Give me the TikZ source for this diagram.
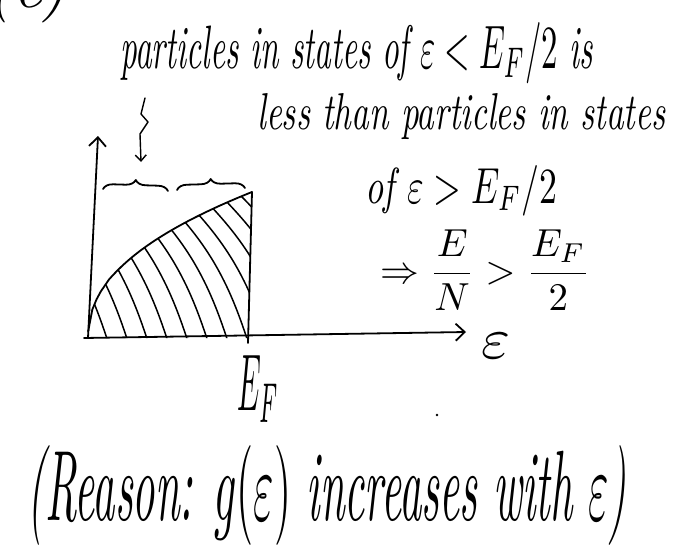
\documentclass[tikz,border=0pt]{standalone}
\usepackage{graphicx}
\usetikzlibrary{arrows.meta,decorations.pathreplacing}
\tikzset{
  pen/.style={line width=1.8pt, line cap=round, line join=round},
  axis/.style={pen, -{Straight Barb[length=9pt,width=17pt,line width=1.8pt]}},
  hatch/.style={line width=1.5pt, line cap=round},
  txt/.style={inner sep=0pt, font=\itshape},
  bracestyle/.style={pen, decorate, decoration={brace, amplitude=10pt, aspect=0.5}},
}
\begin{document}
\begin{tikzpicture}[x=1pt,y=-1pt]
\useasboundingbox (0,0) rectangle (699,551);

% texts
\node[txt, anchor=base west] (tag) at (-12,8) {\resizebox{79pt}{!}{(e)}};
\node[txt, anchor=base west] (l1) at (120,68) {\resizebox{473pt}{46pt}{particles in states of $\varepsilon < E_F/2$ is}};
\node[txt, anchor=base west] (l2) at (257,129) {\resizebox{408pt}{36pt}{less than particles in states}};
\node[txt, anchor=base west] (l3) at (365,203) {\resizebox{192pt}{38pt}{of $\varepsilon > E_F/2$}};
\node[txt, anchor=north west] (l4) at (380,230) {\resizebox*{210pt}{80pt}{$\displaystyle \Rightarrow \frac{E}{N} > \frac{E_F}{2}$}};
\node[txt, anchor=north west] (reason) at (27,445) {\resizebox*{599pt}{100pt}{(Reason: $g(\varepsilon)$ increases with $\varepsilon$)}};
\node[txt] (eps) at (496,346) {\resizebox{29pt}{25pt}{$\varepsilon$}};
\node[txt, anchor=north west] (ef) at (237,355) {\resizebox*{42pt}{67pt}{$E_F$}};

% axes
\coordinate (O) at (88,338);
\coordinate (ytop) at (98,136);
\coordinate (xstart) at (84,338);
\coordinate (xend) at (466,332);
\draw[axis] (O) -- (ytop);
\draw[axis] (xstart) -- (xend);

% hatching
\begin{scope}
  \clip (88,338) -- plot[domain=0.001:1, samples=40] ({88+164*\x}, {338-146*(\x)^0.45}) -- (248,338) -- cycle;
  \foreach \b in {108,128,...,328}
    \draw[hatch] (\b-95,188) to[bend left=14] (\b,342);
\end{scope}

% curve and E_F line
\draw[pen] plot[domain=0.001:1, samples=40] ({88+164*\x}, {338-146*(\x)^0.45});
\coordinate (efbot) at (248,343);
\coordinate (eftop) at (252,192);
\draw[pen] (efbot) -- (eftop);

% braces
\coordinate (b1a) at (103,189);
\coordinate (b1b) at (168,191);
\coordinate (b2a) at (177,190);
\coordinate (b2b) at (245,188);
\draw[bracestyle] (b1a) -- (b1b);
\draw[bracestyle] (b2a) -- (b2b);

% zigzag arrow
\coordinate (z0) at (145,98);
\coordinate (z1) at (141,114);
\coordinate (z2) at (148,122);
\coordinate (z3) at (140,134);
\coordinate (z4) at (141,162);
\draw[pen, line width=1.4pt, -{Straight Barb[length=6pt,width=11pt,line width=1.4pt]}] (z0) -- (z1) -- (z2) -- (z3) -- (z4);

% stray dot
\fill (437,415) circle (1.3pt);
\end{tikzpicture}
\end{document}
